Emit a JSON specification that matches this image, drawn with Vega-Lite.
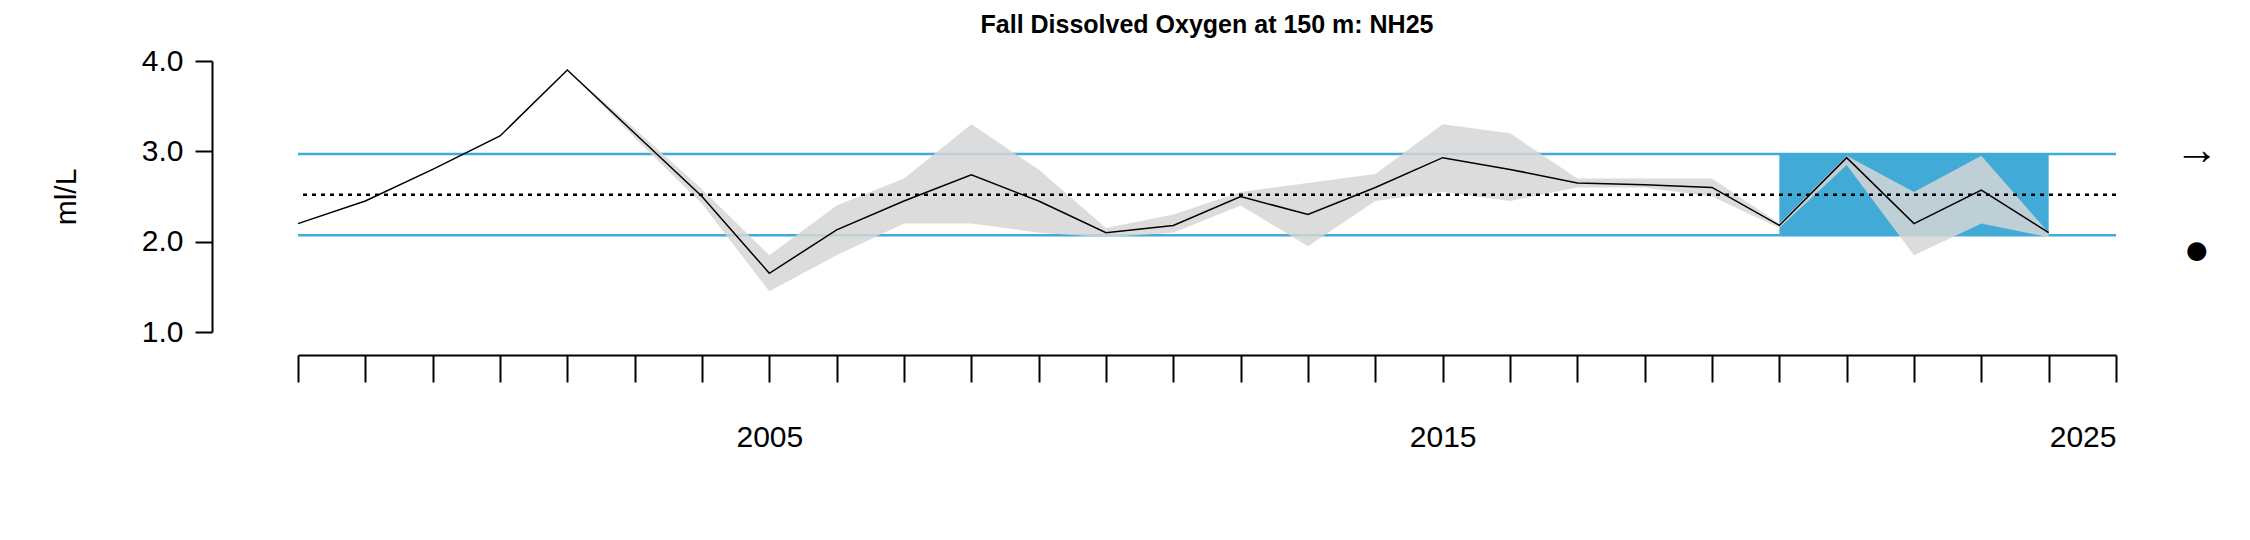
{
  "$schema": "https://vega.github.io/schema/vega-lite/v6.json",
  "autosize": "none",
  "padding": {"left": 298, "top": 61, "right": 136, "bottom": 208},
  "width": 1818,
  "height": 271,
  "title": {"text": "Fall Dissolved Oxygen at 150 m: NH25", "font": "Liberation Sans", "fontSize": 25, "fontWeight": "bold", "color": "black", "offset": 8},
  "config": {"view": {"stroke": null}, "font": "Liberation Sans"},
  "datasets": {
    "series": [
      {"year": 1998, "v": 2.2}, {"year": 1999, "v": 2.45}, {"year": 2000, "v": 2.8},
      {"year": 2001, "v": 3.17}, {"year": 2002, "v": 3.9, "lo": 3.9, "hi": 3.9}, {"year": 2003, "v": 3.2, "lo": 3.15, "hi": 3.25},
      {"year": 2004, "v": 2.5, "lo": 2.42, "hi": 2.58}, {"year": 2005, "v": 1.65, "lo": 1.45, "hi": 1.85}, {"year": 2006, "v": 2.13, "lo": 1.85, "hi": 2.4},
      {"year": 2007, "v": 2.45, "lo": 2.2, "hi": 2.7}, {"year": 2008, "v": 2.74, "lo": 2.2, "hi": 3.3}, {"year": 2009, "v": 2.45, "lo": 2.1, "hi": 2.8},
      {"year": 2010, "v": 2.1, "lo": 2.05, "hi": 2.15}, {"year": 2011, "v": 2.18, "lo": 2.1, "hi": 2.3}, {"year": 2012, "v": 2.5, "lo": 2.4, "hi": 2.55},
      {"year": 2013, "v": 2.3, "lo": 1.95, "hi": 2.65}, {"year": 2014, "v": 2.6, "lo": 2.45, "hi": 2.75}, {"year": 2015, "v": 2.93, "lo": 2.55, "hi": 3.3},
      {"year": 2016, "v": 2.8, "lo": 2.45, "hi": 3.2}, {"year": 2017, "v": 2.65, "lo": 2.6, "hi": 2.7}, {"year": 2018, "v": 2.63, "lo": 2.6, "hi": 2.7},
      {"year": 2019, "v": 2.6, "lo": 2.5, "hi": 2.7}, {"year": 2020, "v": 2.18, "lo": 2.15, "hi": 2.2}, {"year": 2021, "v": 2.93, "lo": 2.85, "hi": 2.95},
      {"year": 2022, "v": 2.2, "lo": 1.85, "hi": 2.55}, {"year": 2023, "v": 2.57, "lo": 2.2, "hi": 2.95}, {"year": 2024, "v": 2.1, "lo": 2.05, "hi": 2.1}
    ],
    "refs": [{"y": 2.97}, {"y": 2.07}],
    "box": [{"x1": 2020, "x2": 2024, "y1": 2.07, "y2": 2.97}],
    "symbols": [{"x": 2026.2, "y": 3.0, "s": "→"}, {"x": 2026.2, "y": 1.9, "s": "●"}]
  },
  "layer": [
    {
      "data": {"name": "box"},
      "mark": {"type": "rect", "color": "#41aad6"},
      "encoding": {
        "x": {"field": "x1", "type": "quantitative", "scale": {"domain": [1998, 2025], "nice": false, "zero": false},
          "axis": {"title": null, "values": [1998,1999,2000,2001,2002,2003,2004,2005,2006,2007,2008,2009,2010,2011,2012,2013,2014,2015,2016,2017,2018,2019,2020,2021,2022,2023,2024,2025],
            "labelExpr": "datum.value % 10 == 5 ? datum.value : ''", "format": "d", "grid": false, "offset": 23, "domainColor": "black", "domainWidth": 2, "tickColor": "black", "tickWidth": 2, "tickSize": 27, "labelPadding": 40, "labelFontSize": 30, "labelColor": "black", "labelBaseline": "top"}},
        "x2": {"field": "x2"},
        "y": {"field": "y1", "type": "quantitative", "scale": {"domain": [1, 4], "nice": false, "zero": false},
          "axis": {"title": "ml/L", "titleFontSize": 30, "titleFontWeight": "normal", "titleColor": "black", "titlePadding": 60, "values": [1, 2, 3, 4], "grid": false, "offset": 86, "domainColor": "black", "domainWidth": 2, "tickColor": "black", "tickWidth": 2, "tickSize": 17, "labelPadding": 12, "labelFontSize": 30, "labelColor": "black"}},
        "y2": {"field": "y2"}
      }
    },
    {
      "data": {"name": "refs"},
      "mark": {"type": "rule", "color": "#41aad6", "strokeWidth": 2.5},
      "encoding": {"y": {"field": "y", "type": "quantitative"}}
    },
    {
      "data": {"name": "series"},
      "transform": [{"filter": "isValid(datum.lo)"}],
      "mark": {"type": "area", "color": "#d6d6d6", "opacity": 0.85},
      "encoding": {
        "x": {"field": "year", "type": "quantitative"},
        "y": {"field": "lo", "type": "quantitative"},
        "y2": {"field": "hi"}
      }
    },
    {
      "data": {"values": [{"y": 2.52}]},
      "mark": {"type": "rule", "color": "black", "strokeWidth": 2.5, "strokeDash": [4, 5]},
      "encoding": {"y": {"field": "y", "type": "quantitative"}}
    },
    {
      "data": {"name": "series"},
      "mark": {"type": "line", "color": "black", "strokeWidth": 1.5},
      "encoding": {
        "x": {"field": "year", "type": "quantitative"},
        "y": {"field": "v", "type": "quantitative"}
      }
    },
    {
      "data": {"name": "symbols"},
      "mark": {"type": "text", "fontSize": 44, "color": "black", "clip": false},
      "encoding": {
        "x": {"field": "x", "type": "quantitative"},
        "y": {"field": "y", "type": "quantitative"},
        "text": {"field": "s"}
      }
    }
  ]
}
